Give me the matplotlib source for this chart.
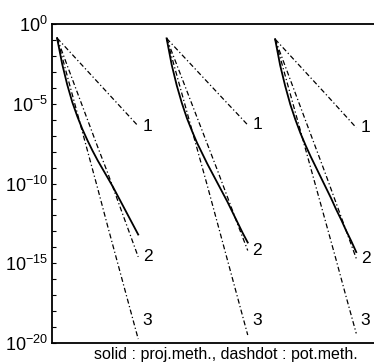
import matplotlib
matplotlib.use("Agg")
import matplotlib.pyplot as plt
import numpy as np
from matplotlib.ticker import FixedLocator, NullFormatter

plt.rcParams['font.family'] = ['Liberation Sans', 'DejaVu Sans']

# iteration index within each group
iters = [0, 1, 2, 3, 4, 5, 6, 7, 8]
solid_iters = [0, 0.5, 1, 1.5, 2, 2.5, 3, 3.5, 4, 4.5, 5, 5.5, 6, 6.5, 7, 7.5, 8]
group_offsets = [0.5, 11.3, 22.0]

# log10 of error
solid_g1 = [-0.88, -2.5, -3.8, -4.9, -5.8, -6.6, -7.3, -7.95, -8.55, -9.1,
            -9.65, -10.2, -10.8, -11.4, -12.0, -12.6, -13.2]
solid_g2 = [-0.9, -2.55, -3.85, -4.95, -5.9, -6.7, -7.45, -8.1, -8.75, -9.35,
            -9.95, -10.55, -11.15, -11.8, -12.45, -13.1, -13.7]
solid_g3 = [-0.95, -2.6, -3.9, -5.05, -6.0, -6.85, -7.6, -8.3, -8.95, -9.6,
            -10.25, -10.9, -11.6, -12.25, -12.95, -13.6, -14.3]

pot1_g1 = [-0.88, -1.57, -2.26, -2.95, -3.64, -4.33, -5.02, -5.71, -6.4]
pot1_g2 = [-0.9, -1.58, -2.26, -2.94, -3.62, -4.3, -4.98, -5.65, -6.33]
pot1_g3 = [-0.95, -1.64, -2.33, -3.02, -3.71, -4.4, -5.1, -5.8, -6.5]

pot2_g1 = [-0.88, -2.6, -4.3, -6.0, -7.7, -9.35, -11.1, -12.85, -14.6]
pot2_g2 = [-0.9, -2.55, -4.2, -5.85, -7.5, -9.15, -10.85, -12.55, -14.2]
pot2_g3 = [-0.95, -2.65, -4.35, -6.05, -7.75, -9.45, -11.2, -12.95, -14.7]

pot3_g1 = [-0.88, -3.25, -5.6, -7.95, -10.3, -12.7, -15.05, -17.4, -19.75]
pot3_g2 = [-0.9, -3.2, -5.5, -7.8, -10.1, -12.45, -14.8, -17.15, -19.5]
pot3_g3 = [-0.95, -3.25, -5.55, -7.85, -10.15, -12.45, -14.75, -17.1, -19.4]

solids = [solid_g1, solid_g2, solid_g3]
pots = [[pot1_g1, pot2_g1, pot3_g1], [pot1_g2, pot2_g2, pot3_g2], [pot1_g3, pot2_g3, pot3_g3]]
curve_labels = ["1", "2", "3"]
label_log_y = [None, None, -18.6]   # label 3 sits above the end of its curve
xlabel = "solid : proj.meth., dashdot : pot.meth."

fig = plt.figure(figsize=(3.74, 3.62), dpi=100)
ax = fig.add_axes([52/374, 1 - 343/362, 348/374, 319/362])

dashdot = (0, (4, 2, 1, 2))
for g, off in enumerate(group_offsets):
    x = np.array(iters) + off
    for k, p in enumerate(pots[g]):
        y = 10.0 ** np.array(p)
        ax.plot(x, y, color='black', lw=0.9, linestyle=dashdot)
        ly = y[-1] if label_log_y[k] is None else 10.0 ** label_log_y[k]
        ax.text(x[-1] + 0.45, ly, curve_labels[k], fontsize=12.5,
                ha='left', va='center')
    xs = np.array(solid_iters) + off
    ax.plot(xs, 10.0 ** np.array(solids[g]), color='black', lw=1.3)

ax.set_yscale('log')
ax.set_ylim(1e-20, 1e0)
ax.set_xlim(0, 31.75 * 348 / 322)
ax.yaxis.set_major_locator(FixedLocator([1e-20, 1e-15, 1e-10, 1e-5, 1e0]))
ax.yaxis.set_minor_locator(FixedLocator([10.0 ** (-k) for k in range(1, 20) if k % 5]))
ax.yaxis.set_minor_formatter(NullFormatter())
ax.tick_params(axis='y', which='both', direction='in', length=3, width=0.8,
               labelsize=13, pad=3)
ax.set_xticks([])
ax.spines['right'].set_visible(False)
for s in ['left', 'top', 'bottom']:
    ax.spines[s].set_linewidth(1.3)
ax.set_xlabel(xlabel, fontsize=11.5, labelpad=3)

fig.savefig('out.png', dpi=100)
